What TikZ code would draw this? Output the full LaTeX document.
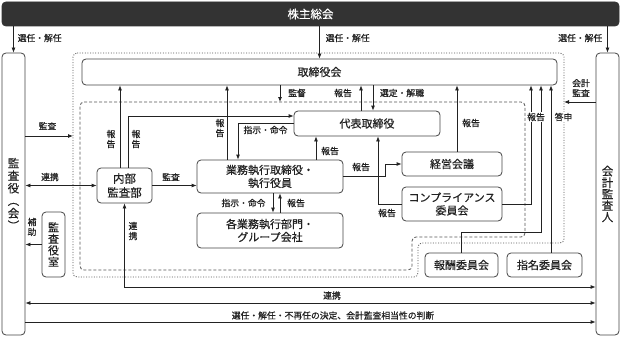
\documentclass[tikz,border=0pt]{standalone}
\usepackage{fontspec}
\setmainfont{Noto Sans CJK JP}
\newfontfamily\jpb{Noto Sans CJK JP}[FakeBold=0.8]
\newfontfamily\jpm{Noto Sans CJK JP}[FakeBold=0.4]
\usetikzlibrary{arrows.meta,calc}
\definecolor{ln}{HTML}{222222}
\definecolor{bd}{HTML}{444444}
\definecolor{dk}{HTML}{333333}
\definecolor{dt}{HTML}{555555}
\begin{document}
\begin{tikzpicture}[x=1pt,y=-1pt,
 box/.style={draw=bd, line width=0.8pt, rounded corners=4pt, fill=white, inner sep=0pt, align=center, font=\jpm\fontsize{11}{13}\selectfont, text=ln},
 lbl/.style={font=\jpb\fontsize{8.8}{10}\selectfont, inner sep=0.5pt, text=ln, align=center},
 arr/.style={draw=ln, line width=0.8pt, -{Latex[length=5pt,width=4pt]}},
 biarr/.style={draw=ln, line width=0.8pt, {Latex[length=5pt,width=4pt]}-{Latex[length=5pt,width=4pt]}},
 dotbox/.style={draw=dt, line width=0.8pt, dash pattern=on 1pt off 1.6pt, rounded corners=4pt},
 dashbox/.style={draw=dt, line width=0.8pt, dash pattern=on 3pt off 2pt, rounded corners=4pt},
]
\useasboundingbox (0,0) rectangle (621,337);

% region outlines
\draw[dotbox] (73,53) -- (564,53) -- (564,243) -- (418,243) -- (418,277) -- (73,277) -- cycle;
\draw[dashbox] (80,102) -- (525,102) -- (525,237) -- (412,237) -- (412,270) -- (80,270) -- cycle;

% boxes
\node[box, fill=dk, draw=dk, text=white, minimum width=617pt, minimum height=24pt, font=\jpm\fontsize{11.5}{13}\selectfont] (sh) at (310.5,14) {株主総会};
\node[box, minimum width=23pt, minimum height=282pt] (kansa) at (13.5,194) {};
\node[box, minimum width=23pt, minimum height=282pt] (kaikei) at (607.5,194) {};
\node[box, minimum width=475pt, minimum height=26pt] (tori) at (319.5,72) {取締役会};
\node[box, minimum width=146pt, minimum height=25pt] (daihyo) at (367,123.5) {代表取締役};
\node[box, minimum width=146pt, minimum height=33pt] (gyomu) at (270,176.5) {業務執行取締役・\\執行役員};
\node[box, minimum width=146pt, minimum height=35pt] (kakugyo) at (270,230.5) {各業務執行部門・\\グループ会社};
\node[box, minimum width=55pt, minimum height=35pt, font=\jpm\fontsize{11.5}{14}\selectfont] (naibu) at (124.5,185.5) {内部\\監査部};
\node[box, minimum width=100pt, minimum height=24pt] (keiei) at (452,164) {経営会議};
\node[box, minimum width=100pt, minimum height=34pt] (comp) at (452,204) {コンプライアンス\\委員会};
\node[box, minimum width=73pt, minimum height=24pt] (hoshu) at (461.5,265) {報酬委員会};
\node[box, minimum width=75pt, minimum height=24pt] (shimei) at (544.5,265) {指名委員会};
\node[box, minimum width=23pt, minimum height=65pt, font=\jpm\fontsize{11}{11.5}\selectfont] (kshitsu) at (53.5,244.5) {監\\査\\役\\室};

% vertical texts of side boxes
\node[lbl, font=\jpm\fontsize{11.5}{12.5}\selectfont] (kansaT) at (kansa.center) {監\\査\\役\\︵\\会\\︶};
\node[lbl, font=\jpm\fontsize{11.5}{11.5}\selectfont] (kaikeiT) at (kaikei.center) {会\\計\\監\\査\\人};

% shareholders arrows
\draw[arr] (kansa.north |- sh.south) -- (kansa.north);
\draw[arr] (tori.north |- sh.south) -- (tori.north);
\draw[arr] (kaikei.north |- sh.south) -- (kaikei.north);

% coordinates
\coordinate (n1) at ([xshift=-4.5pt]naibu.north);
\coordinate (n2) at ([xshift=3.5pt]naibu.north);
\coordinate (d1) at ([yshift=7.5pt]daihyo.west);
\coordinate (g1) at ([xshift=-43pt]gyomu.north);
\coordinate (g2) at ([xshift=-32pt]gyomu.north);
\coordinate (g3) at ([xshift=46pt]gyomu.north);
\coordinate (t1) at (280,102);
\coordinate (dh1) at ([xshift=-6pt]daihyo.north);
\coordinate (dh2) at ([xshift=6pt]daihyo.north);
\coordinate (ds) at ([xshift=11pt]daihyo.south);
\coordinate (k1) at ([xshift=5pt]keiei.north);
\coordinate (a1) at (531,200);
\coordinate (hb) at (541,232);
\coordinate (s1) at ([xshift=6.5pt]shimei.north);
\coordinate (oR) at (564,102);
\coordinate (oL) at (73,136);
\coordinate (m1) at ([xshift=3pt]gyomu.south);
\coordinate (m2) at ([xshift=10pt]gyomu.south);
\coordinate (b1) at (300,287);
\coordinate (b2) at (300,303);
\coordinate (b3) at (300,322);

% connectors
\draw[arr] (n1) -- (n1 |- tori.south);
\draw[arr] (n2) |- (d1);
\draw[arr] (g1) -- (g1 |- tori.south);
\draw[arr] (daihyo.west) -| (g2);
\draw[arr] (g3) -- (g3 |- daihyo.south);
\draw[arr] (t1 |- tori.south) -- (t1);
\draw[arr] (dh1) -- (dh1 |- tori.south);
\draw[arr] (dh2 |- tori.south) -- (dh2);
\draw[arr] (gyomu.east) -- ++(42,0) |- (keiei.west);
\draw[arr] (comp.west) -| (ds);
\draw[arr] (k1) -- (k1 |- tori.south);
\draw[arr] (comp.east) -| (a1 |- tori.south);
\draw[arr] (hoshu.north) |- (hb) -- (hb |- tori.south);
\draw[arr] (s1) -- (s1 |- tori.south);
\draw[arr] (oR -| kaikei.west) -- (oR);
\draw[arr] (oL -| kansa.east) -- (oL);
\draw[biarr] (naibu.west -| kansa.east) -- (naibu.west);
\draw[arr] (naibu.east) -- (naibu.east -| gyomu.west);
\draw[arr] (m1) -- (m1 |- kakugyo.north);
\draw[arr] (m2 |- kakugyo.north) -- (m2);
\draw[arr] (kshitsu.west) -- (kshitsu.west -| kansa.east);
\draw[biarr] (naibu.south) |- (b1 -| kaikei.west);
\draw[biarr] (b2 -| kansa.east) -- (b2 -| kaikei.west);
\draw[arr] (b3 -| kansa.east) -- (b3 -| kaikei.west);

% labels
\node[lbl, anchor=west] (l1) at (17,38) {選任・解任};
\node[lbl, anchor=west] (l2) at (325,38) {選任・解任};
\node[lbl, anchor=east] (l3) at (603,38) {選任・解任};
\node[lbl] (l4) at (47.5,126) {監査};
\node[lbl] (l5) at (50,177) {連携};
\node[lbl] (l6) at (171,177) {監査};
\node[lbl] (l7) at (111,139) {報\\告};
\node[lbl] (l8) at (136,139) {報\\告};
\node[lbl] (l9) at (220,128) {報\\告};
\node[lbl] (l10) at (265.5,130) {指示・命令};
\node[lbl] (l11) at (330,151) {報告};
\node[lbl] (l12) at (297,93) {監督};
\node[lbl] (l13) at (343,93) {報告};
\node[lbl] (l14) at (402,93) {選定・解職};
\node[lbl] (l15) at (361,167) {報告};
\node[lbl] (l16) at (471,123) {報告};
\node[lbl] (l17) at (387,213) {報告};
\node[lbl, fill=white] (l18) at (536,117) {報告};
\node[lbl, fill=white] (l19) at (563.5,117) {答申};
\node[lbl] (l20) at (581,88) {会計\\監査};
\node[lbl] (l21) at (243.5,203) {指示・命令};
\node[lbl] (l22) at (296,203) {報告};
\node[lbl] (l23) at (32,227) {補\\助};
\node[lbl] (l24) at (133,231) {連\\携};
\node[lbl] (l25) at (332,295.5) {連携};
\node[lbl] (l26) at (333,315.5) {選任・解任・不再任の決定、会計監査相当性の判断};
\end{tikzpicture}
\end{document}
